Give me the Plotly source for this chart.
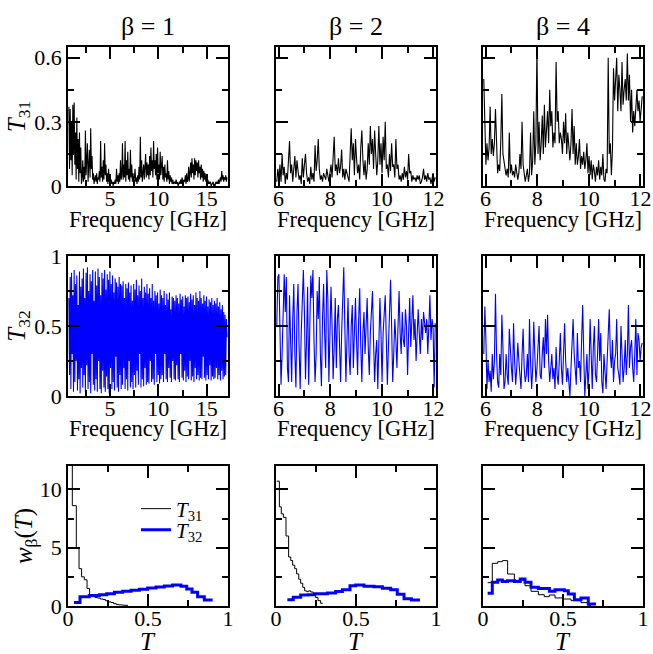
import numpy as np
import plotly.graph_objects as go

# ---------------- data ----------------
BETAS = ["β = 1", "β = 2", "β = 4"]

# frequency grids (GHz): start, stop of each measured spectrum
F_B1 = (0.75, 17.1)
F_B2 = (5.93, 12.07)
F_B4 = (5.93, 12.07)

T31_B1 = [
    0.37, 0.08, 0.36, 0.12, 0.30, 0.05, 0.38, 0.15, 0.39, 0.10, 0.25, 0.03, 0.32, 0.08, 0.22, 0.02, 0.25, 0.06, 0.18, 0.01,
    0.04, 0.12, 0.02, 0.09, 0.03, 0.26, 0.05, 0.15, 0.20, 0.02, 0.10, 0.17, 0.04, 0.27, 0.08, 0.14, 0.03, 0.06, 0.01, 0.04,
    0.05, 0.02, 0.06, 0.01, 0.04, 0.03, 0.07, 0.02, 0.21, 0.04, 0.09, 0.02, 0.12, 0.03, 0.20, 0.05, 0.10, 0.02, 0.06, 0.01,
    0.08, 0.02, 0.05, 0.01, 0.03, 0.01, 0.02, 0.00, 0.02, 0.01, 0.03, 0.01, 0.08, 0.02, 0.05, 0.01, 0.06, 0.02, 0.12, 0.03,
    0.05, 0.20, 0.03, 0.10, 0.04, 0.21, 0.02, 0.12, 0.05, 0.16, 0.03, 0.08, 0.02, 0.17, 0.04, 0.10, 0.02, 0.06, 0.01, 0.04,
    0.08, 0.02, 0.04, 0.01, 0.05, 0.02, 0.09, 0.03, 0.23, 0.04, 0.12, 0.02, 0.06, 0.10, 0.03, 0.08, 0.15, 0.04, 0.11, 0.05,
    0.10, 0.03, 0.14, 0.05, 0.18, 0.07, 0.12, 0.04, 0.21, 0.08, 0.12, 0.05, 0.15, 0.03, 0.18, 0.06, 0.10, 0.03, 0.16, 0.05,
    0.08, 0.14, 0.03, 0.09, 0.02, 0.10, 0.04, 0.06, 0.02, 0.12, 0.03, 0.07, 0.01, 0.05, 0.02, 0.04, 0.01, 0.03, 0.01, 0.02,
    0.02, 0.01, 0.03, 0.01, 0.02, 0.00, 0.01, 0.02, 0.01, 0.03, 0.01, 0.04, 0.02, 0.01, 0.03, 0.02, 0.05, 0.01, 0.06, 0.02,
    0.03, 0.09, 0.02, 0.05, 0.11, 0.04, 0.13, 0.06, 0.10, 0.03, 0.13, 0.05, 0.12, 0.07, 0.11, 0.04, 0.12, 0.06, 0.09, 0.03,
    0.10, 0.04, 0.08, 0.02, 0.07, 0.03, 0.06, 0.02, 0.04, 0.01, 0.03, 0.01, 0.02, 0.01, 0.02, 0.00, 0.01, 0.01, 0.02, 0.00,
    0.01, 0.00, 0.02, 0.01, 0.02, 0.01, 0.03, 0.01, 0.02, 0.04, 0.02, 0.07, 0.03, 0.05, 0.02, 0.04, 0.03, 0.05, 0.02, 0.04,
]

T31_B2 = [
    0.02, 0.08, 0.03, 0.10, 0.02, 0.15, 0.05, 0.09, 0.01, 0.06,
    0.03, 0.12, 0.21, 0.06, 0.10, 0.02, 0.08, 0.14, 0.04, 0.12,
    0.07, 0.03, 0.05, 0.01, 0.13, 0.04, 0.10, 0.15, 0.06, 0.02,
    0.04, 0.01, 0.09, 0.03, 0.06, 0.02, 0.19, 0.07, 0.12, 0.22,
    0.08, 0.03, 0.05, 0.02, 0.06, 0.04, 0.03, 0.08, 0.05, 0.02,
    0.06, 0.10, 0.04, 0.12, 0.23, 0.07, 0.10, 0.05, 0.13, 0.06,
    0.09, 0.17, 0.04, 0.08, 0.03, 0.08, 0.06, 0.04, 0.02, 0.15,
    0.27, 0.12, 0.20, 0.05, 0.22, 0.13, 0.06, 0.10, 0.03, 0.18,
    0.26, 0.12, 0.05, 0.12, 0.03, 0.08, 0.20, 0.10, 0.28, 0.15,
    0.22, 0.08, 0.26, 0.15, 0.05, 0.12, 0.28, 0.10, 0.20, 0.06,
    0.23, 0.12, 0.30, 0.08, 0.10, 0.04, 0.15, 0.07, 0.20, 0.09,
    0.10, 0.04, 0.22, 0.08, 0.10, 0.03, 0.05, 0.02, 0.06, 0.03,
    0.09, 0.04, 0.07, 0.03, 0.15, 0.06, 0.07, 0.02, 0.05, 0.03,
    0.04, 0.02, 0.05, 0.03, 0.05, 0.01, 0.02, 0.04, 0.08, 0.03,
    0.05, 0.02, 0.06, 0.03, 0.04, 0.01, 0.03, 0.06, 0.02, 0.04,
]

T31_B4 = [
    0.50, 0.25, 0.10, 0.20, 0.12, 0.18, 0.37, 0.15, 0.22, 0.14,
    0.20, 0.36, 0.13, 0.06, 0.10, 0.07, 0.21, 0.43, 0.15, 0.12,
    0.10, 0.05, 0.08, 0.04, 0.25, 0.06, 0.10, 0.05, 0.07, 0.04,
    0.10, 0.05, 0.03, 0.06, 0.15, 0.08, 0.30, 0.10, 0.04, 0.02,
    0.05, 0.08, 0.02, 0.06, 0.25, 0.05, 0.12, 0.35, 0.10, 0.20,
    0.65, 0.15, 0.30, 0.12, 0.20, 0.33, 0.15, 0.38, 0.18, 0.25,
    0.35, 0.20, 0.45, 0.28, 0.35, 0.18, 0.25, 0.20, 0.58, 0.30,
    0.35, 0.20, 0.25, 0.22, 0.15, 0.30, 0.20, 0.34, 0.15, 0.25,
    0.18, 0.12, 0.20, 0.36, 0.15, 0.28, 0.10, 0.20, 0.10, 0.14,
    0.22, 0.08, 0.14, 0.10, 0.16, 0.08, 0.12, 0.20, 0.06, 0.14,
    0.05, 0.12, 0.03, 0.10, 0.07, 0.02, 0.09, 0.05, 0.12, 0.03,
    0.09, 0.05, 0.15, 0.03, 0.02, 0.08, 0.06, 0.60, 0.15, 0.20,
    0.05, 0.17, 0.55, 0.40, 0.50, 0.60, 0.35, 0.52, 0.45, 0.35,
    0.58, 0.38, 0.45, 0.50, 0.40, 0.62, 0.40, 0.52, 0.30, 0.45,
    0.25, 0.35, 0.28, 0.40, 0.45, 0.35, 0.40, 0.30, 0.38, 0.42,
]

T32_B1 = [
    0.70, 0.15, 0.85, 0.05, 0.88, 0.30, 0.72, 0.03, 0.90, 0.10, 0.80, 0.25, 0.86, 0.04, 0.65, 0.12, 0.89, 0.02, 0.78, 0.20,
    0.84, 0.06, 0.91, 0.15, 0.70, 0.03, 0.88, 0.22, 0.92, 0.05, 0.75, 0.10, 0.87, 0.02, 0.82, 0.30, 0.90, 0.08, 0.68, 0.04,
    0.89, 0.12, 0.79, 0.03, 0.91, 0.25, 0.85, 0.05, 0.72, 0.02, 0.88, 0.18, 0.84, 0.06, 0.90, 0.03, 0.76, 0.14, 0.87, 0.05,
    0.83, 0.02, 0.89, 0.20, 0.80, 0.05, 0.86, 0.10, 0.74, 0.04, 0.84, 0.28, 0.81, 0.06, 0.78, 0.03, 0.85, 0.15, 0.80, 0.05,
    0.79, 0.08, 0.82, 0.20, 0.70, 0.05, 0.80, 0.12, 0.77, 0.04, 0.81, 0.25, 0.74, 0.06, 0.79, 0.10, 0.68, 0.05, 0.80, 0.15,
    0.76, 0.06, 0.83, 0.18, 0.72, 0.08, 0.79, 0.30, 0.75, 0.06, 0.84, 0.12, 0.70, 0.07, 0.78, 0.20, 0.74, 0.08, 0.80, 0.10,
    0.73, 0.09, 0.77, 0.25, 0.70, 0.10, 0.80, 0.12, 0.68, 0.08, 0.75, 0.30, 0.72, 0.10, 0.74, 0.15, 0.66, 0.09, 0.76, 0.12,
    0.72, 0.15, 0.70, 0.10, 0.75, 0.30, 0.65, 0.12, 0.73, 0.10, 0.69, 0.20, 0.74, 0.13, 0.62, 0.10, 0.71, 0.25, 0.70, 0.12,
    0.68, 0.11, 0.72, 0.22, 0.70, 0.12, 0.66, 0.10, 0.73, 0.30, 0.69, 0.13, 0.71, 0.11, 0.64, 0.18, 0.72, 0.10, 0.70, 0.14,
    0.71, 0.12, 0.67, 0.25, 0.73, 0.11, 0.69, 0.14, 0.72, 0.10, 0.65, 0.20, 0.74, 0.12, 0.70, 0.15, 0.68, 0.11, 0.75, 0.13,
    0.70, 0.12, 0.66, 0.28, 0.72, 0.13, 0.68, 0.11, 0.71, 0.15, 0.64, 0.12, 0.69, 0.22, 0.67, 0.11, 0.70, 0.14, 0.65, 0.12,
    0.68, 0.13, 0.66, 0.20, 0.70, 0.12, 0.64, 0.15, 0.67, 0.11, 0.62, 0.18, 0.65, 0.12, 0.60, 0.14, 0.58, 0.15, 0.55, 0.42,
]

T32_B2 = [
    0.50, 0.85, 0.87, 0.40, 0.08, 0.30, 0.55, 0.87, 0.60, 0.85,
    0.20, 0.10, 0.72, 0.40, 0.10, 0.55, 0.80, 0.30, 0.06, 0.60,
    0.80, 0.35, 0.05, 0.45, 0.70, 0.90, 0.60, 0.12, 0.40, 0.78,
    0.08, 0.50, 0.86, 0.70, 0.90, 0.40, 0.10, 0.30, 0.75, 0.55,
    0.85, 0.30, 0.07, 0.55, 0.80, 0.45, 0.20, 0.90, 0.70, 0.10,
    0.40, 0.78, 0.50, 0.12, 0.35, 0.70, 0.20, 0.55, 0.65, 0.25,
    0.10, 0.45, 0.75, 0.92, 0.50, 0.10, 0.40, 0.70, 0.30, 0.15,
    0.50, 0.65, 0.20, 0.45, 0.70, 0.40, 0.15, 0.55, 0.77, 0.35,
    0.10, 0.45, 0.60, 0.30, 0.50, 0.70, 0.35, 0.15, 0.45, 0.60,
    0.75, 0.40, 0.10, 0.30, 0.40, 0.05, 0.35, 0.70, 0.45, 0.10,
    0.45, 0.60, 0.72, 0.40, 0.08, 0.35, 0.65, 0.83, 0.50, 0.10,
    0.30, 0.55, 0.40, 0.20, 0.50, 0.75, 0.45, 0.30, 0.60, 0.40,
    0.35, 0.62, 0.50, 0.15, 0.45, 0.70, 0.35, 0.55, 0.72, 0.40,
    0.55, 0.25, 0.50, 0.62, 0.45, 0.30, 0.55, 0.40, 0.60, 0.50,
    0.45, 0.55, 0.30, 0.50, 0.72, 0.40, 0.55, 0.48, 0.06, 0.52,
]

T32_B4 = [
    0.30, 0.64, 0.40, 0.05, 0.25, 0.10, 0.18, 0.03, 0.30, 0.12,
    0.25, 0.73, 0.30, 0.10, 0.06, 0.30, 0.15, 0.58, 0.35, 0.05,
    0.10, 0.30, 0.15, 0.08, 0.48, 0.30, 0.20, 0.10, 0.52, 0.25,
    0.08, 0.20, 0.38, 0.25, 0.15, 0.05, 0.30, 0.48, 0.20, 0.10,
    0.15, 0.30, 0.10, 0.55, 0.25, 0.05, 0.20, 0.53, 0.30, 0.10,
    0.20, 0.35, 0.50, 0.15, 0.12, 0.30, 0.42, 0.20, 0.55, 0.30,
    0.58, 0.25, 0.10, 0.20, 0.30, 0.12, 0.20, 0.05, 0.35, 0.15,
    0.08, 0.25, 0.45, 0.20, 0.08, 0.30, 0.52, 0.25, 0.10, 0.20,
    0.10, 0.00, 0.20, 0.40, 0.55, 0.30, 0.15, 0.08, 0.45, 0.20,
    0.25, 0.10, 0.40, 0.65, 0.30, 0.00, 0.15, 0.30, 0.05, 0.20,
    0.55, 0.20, 0.05, 0.35, 0.50, 0.15, 0.10, 0.30, 0.55, 0.25,
    0.45, 0.10, 0.02, 0.30, 0.15, 0.05, 0.25, 0.40, 0.62, 0.30,
    0.20, 0.40, 0.10, 0.25, 0.30, 0.55, 0.20, 0.15, 0.08, 0.50,
    0.30, 0.10, 0.20, 0.40, 0.15, 0.30, 0.65, 0.20, 0.35, 0.40,
    0.20, 0.10, 0.30, 0.55, 0.15, 0.45, 0.40, 0.25, 0.35, 0.38,
]

# distributions w_beta(T): bin edges and bin heights
W31_B1_EDGES = [0, 0.027, 0.052, 0.069, 0.085, 0.102, 0.119, 0.135, 0.152, 0.169, 0.185,
                0.202, 0.219, 0.235, 0.252, 0.269, 0.285, 0.302, 0.319, 0.335, 0.352, 0.375]
W31_B1 = [14, 8.6, 5.0, 3.2, 2.5, 2.25, 1.5, 0.85, 0.8, 0.72, 0.68,
          0.6, 0.55, 0.45, 0.35, 0.3, 0.2, 0.12, 0.1, 0.08, 0.06]
W32_B1_EDGES = [0.0375, 0.075, 0.133, 0.196, 0.242, 0.29, 0.342, 0.394, 0.446, 0.498,
                0.55, 0.602, 0.654, 0.706, 0.742, 0.775, 0.81, 0.852, 0.904]
W32_B1 = [0.31, 0.8, 0.89, 0.97, 1.06, 1.17, 1.26, 1.34, 1.43, 1.54,
          1.63, 1.71, 1.8, 1.69, 1.46, 1.17, 0.8, 0.51]

W31_B2_EDGES = [0.004, 0.021, 0.033, 0.046, 0.0625, 0.079, 0.092, 0.104, 0.117, 0.129, 0.142,
                0.154, 0.167, 0.179, 0.192, 0.204, 0.217, 0.233, 0.246, 0.2625, 0.279, 0.292]
W31_B2 = [10.7, 8.5, 7.9, 7.6, 6.0, 4.2, 3.9, 3.5, 3.2, 2.75, 2.3,
          1.95, 1.6, 1.3, 1.23, 1.3, 1.2, 1.03, 0.74, 0.46, 0.23]
W32_B2_EDGES = [0.071, 0.108, 0.154, 0.2, 0.242, 0.321, 0.373, 0.415, 0.4625, 0.498,
                0.55, 0.6125, 0.665, 0.717, 0.758, 0.8, 0.846, 0.9]
W32_B2 = [0.54, 0.74, 0.95, 0.97, 1.05, 1.12, 1.25, 1.4, 1.74, 1.8,
          1.7, 1.64, 1.52, 1.4, 1.0, 0.62, 0.51]

W31_B4_EDGES = [0.029, 0.058, 0.092, 0.121, 0.154, 0.196, 0.2625, 0.3, 0.346, 0.383,
                0.415, 0.45, 0.498, 0.55, 0.6125, 0.654, 0.675]
W31_B4 = [2.0, 3.66, 3.8, 3.89, 2.74, 2.2, 1.74, 1.26, 0.97, 0.8,
          0.94, 0.69, 0.6, 0.46, 0.29, 0.06]
W32_B4_EDGES = [0.029, 0.058, 0.092, 0.121, 0.154, 0.196, 0.233, 0.2625, 0.3, 0.346,
                0.415, 0.45, 0.508, 0.533, 0.571, 0.6125, 0.658, 0.706]
W32_B4 = [1.09, 2.03, 2.23, 2.09, 2.17, 2.11, 2.31, 2.03, 1.6, 1.51,
          1.26, 1.4, 1.31, 1.03, 0.54, 0.69, 0.17]

# ---------------- layout geometry ----------------
W, H = 653, 654
COLS_PX = [(68, 228), (276, 436), (483, 643)]
ROWS_PX = [(47, 186), (256, 396), (466, 606)]

FONT = "Liberation Serif, Times New Roman, Times, serif"
BLUE = "#0000ff"

fig = go.Figure()


def ax_name(r, c):
    i = r * 3 + c + 1
    return ("" if i == 1 else str(i))


def add_spectrum(r, c, frange, vals, color):
    f = np.linspace(frange[0], frange[1], len(vals))
    n = ax_name(r, c)
    fig.add_trace(go.Scatter(x=f, y=vals, mode="lines",
                             line=dict(color=color, width=1.1),
                             xaxis="x" + n, yaxis="y" + n, showlegend=False))


def add_hist(c, edges, vals, color, width, name, legend):
    n = ax_name(2, c)
    fig.add_trace(go.Scatter(x=edges, y=list(vals) + [vals[-1]], mode="lines",
                             line=dict(color=color, width=width, shape="hv"),
                             name=name, showlegend=legend is not None,
                             legend=legend or "legend",
                             xaxis="x" + n, yaxis="y" + n))


add_spectrum(0, 0, F_B1, T31_B1, "black")
add_spectrum(0, 1, F_B2, T31_B2, "black")
add_spectrum(0, 2, F_B4, T31_B4, "black")
add_spectrum(1, 0, F_B1, T32_B1, BLUE)
add_spectrum(1, 1, F_B2, T32_B2, BLUE)
add_spectrum(1, 2, F_B4, T32_B4, BLUE)

add_hist(0, W31_B1_EDGES, W31_B1, "black", 1, "<i>T</i><sub>31</sub>", "legend")
add_hist(0, W32_B1_EDGES, W32_B1, BLUE, 3, "<i>T</i><sub>32</sub>", "legend2")
add_hist(1, W31_B2_EDGES, W31_B2, "black", 1, "T31", None)
add_hist(1, W32_B2_EDGES, W32_B2, BLUE, 3, "T32", None)
add_hist(2, W31_B4_EDGES, W31_B4, "black", 1, "T31", None)
add_hist(2, W32_B4_EDGES, W32_B4, BLUE, 3, "T32", None)

XRANGES = [[0.66, 17.2], [5.9, 12.1], [5.9, 12.1]]
XDTICK = [5, 2, 2]
XMINOR = [2.5, 1, 1]
YRANGES = [[0, 0.65], [0, 1], [0, 12]]
YDTICK = [0.3, 0.5, 5]
YMINOR = [0.15, 0.25, 2.5]
YTITLES = ["<i>T</i><sub>31</sub>", "<i>T</i><sub>32</sub>", "<i>w</i><sub>β</sub>(<i>T</i>)"]

common = dict(showline=True, linecolor="black", linewidth=1.5, mirror="ticks",
              ticks="inside", ticklen=12, tickwidth=1.5, tickcolor="black",
              showgrid=False, zeroline=False, automargin=False,
              tickfont=dict(family=FONT, size=22, color="black"))

layout = {}
annotations = []
for r in range(3):
    for c in range(3):
        n = ax_name(r, c)
        x0, x1 = COLS_PX[c]
        yt, yb = ROWS_PX[r]
        if r < 2:
            xr, xd, xm = XRANGES[c], XDTICK[c], XMINOR[c]
            xt, xts, xoff = "Frequency [GHz]", 22.5, 33
        else:
            xr, xd, xm = [0, 1], 0.5, 0.25
            xt, xts, xoff = "<i>T</i>", 25, 35
        layout["xaxis" + n] = dict(
            common, domain=[x0 / W, x1 / W], range=xr, dtick=xd, tick0=0,
            anchor="y" + n, ticklabelstandoff=-8,
            minor=dict(dtick=xm, tick0=0, ticks="inside", ticklen=6, tickwidth=1.5, tickcolor="black"))
        ydict = dict(
            common, domain=[1 - yb / H, 1 - yt / H], range=YRANGES[r], dtick=YDTICK[r], tick0=0,
            anchor="x" + n, showticklabels=(c == 0),
            minor=dict(dtick=YMINOR[r], tick0=0, ticks="inside", ticklen=6, tickwidth=1.5, tickcolor="black"))
        if c == 0:
            ydict["title"] = dict(text=YTITLES[r], font=dict(family=FONT, size=25, color="black"), standoff=0)
        layout["yaxis" + n] = ydict
        # x-axis title placed below the tick labels
        annotations.append(dict(text=xt, x=(x0 + x1) / 2 / W, y=1 - (yb + xoff) / H,
                                xref="paper", yref="paper", showarrow=False,
                                font=dict(family=FONT, size=xts, color="black"),
                                xanchor="center", yanchor="middle"))

for c in range(3):
    x0, x1 = COLS_PX[c]
    annotations.append(dict(text=BETAS[c], x=(x0 + x1) / 2 / W, y=1 - 27 / H,
                            xref="paper", yref="paper", showarrow=False,
                            font=dict(family=FONT, size=26, color="black"),
                            xanchor="center", yanchor="middle"))

leg_common = dict(xanchor="left", yanchor="middle", bgcolor="rgba(0,0,0,0)", borderwidth=0,
                  font=dict(family=FONT, size=21, color="black"))

fig.update_layout(
    template="none",
    width=W, height=H,
    margin=dict(l=0, r=0, t=0, b=0),
    paper_bgcolor="white", plot_bgcolor="white",
    font=dict(family=FONT, color="black"),
    annotations=annotations,
    legend=dict(leg_common, x=136 / W, y=1 - 509 / H),
    legend2=dict(leg_common, x=136 / W, y=1 - 530 / H),
    **layout,
)

fig.write_html("out.html", config={"displayModeBar": False},
               post_script="document.body.style.margin='0px';")
